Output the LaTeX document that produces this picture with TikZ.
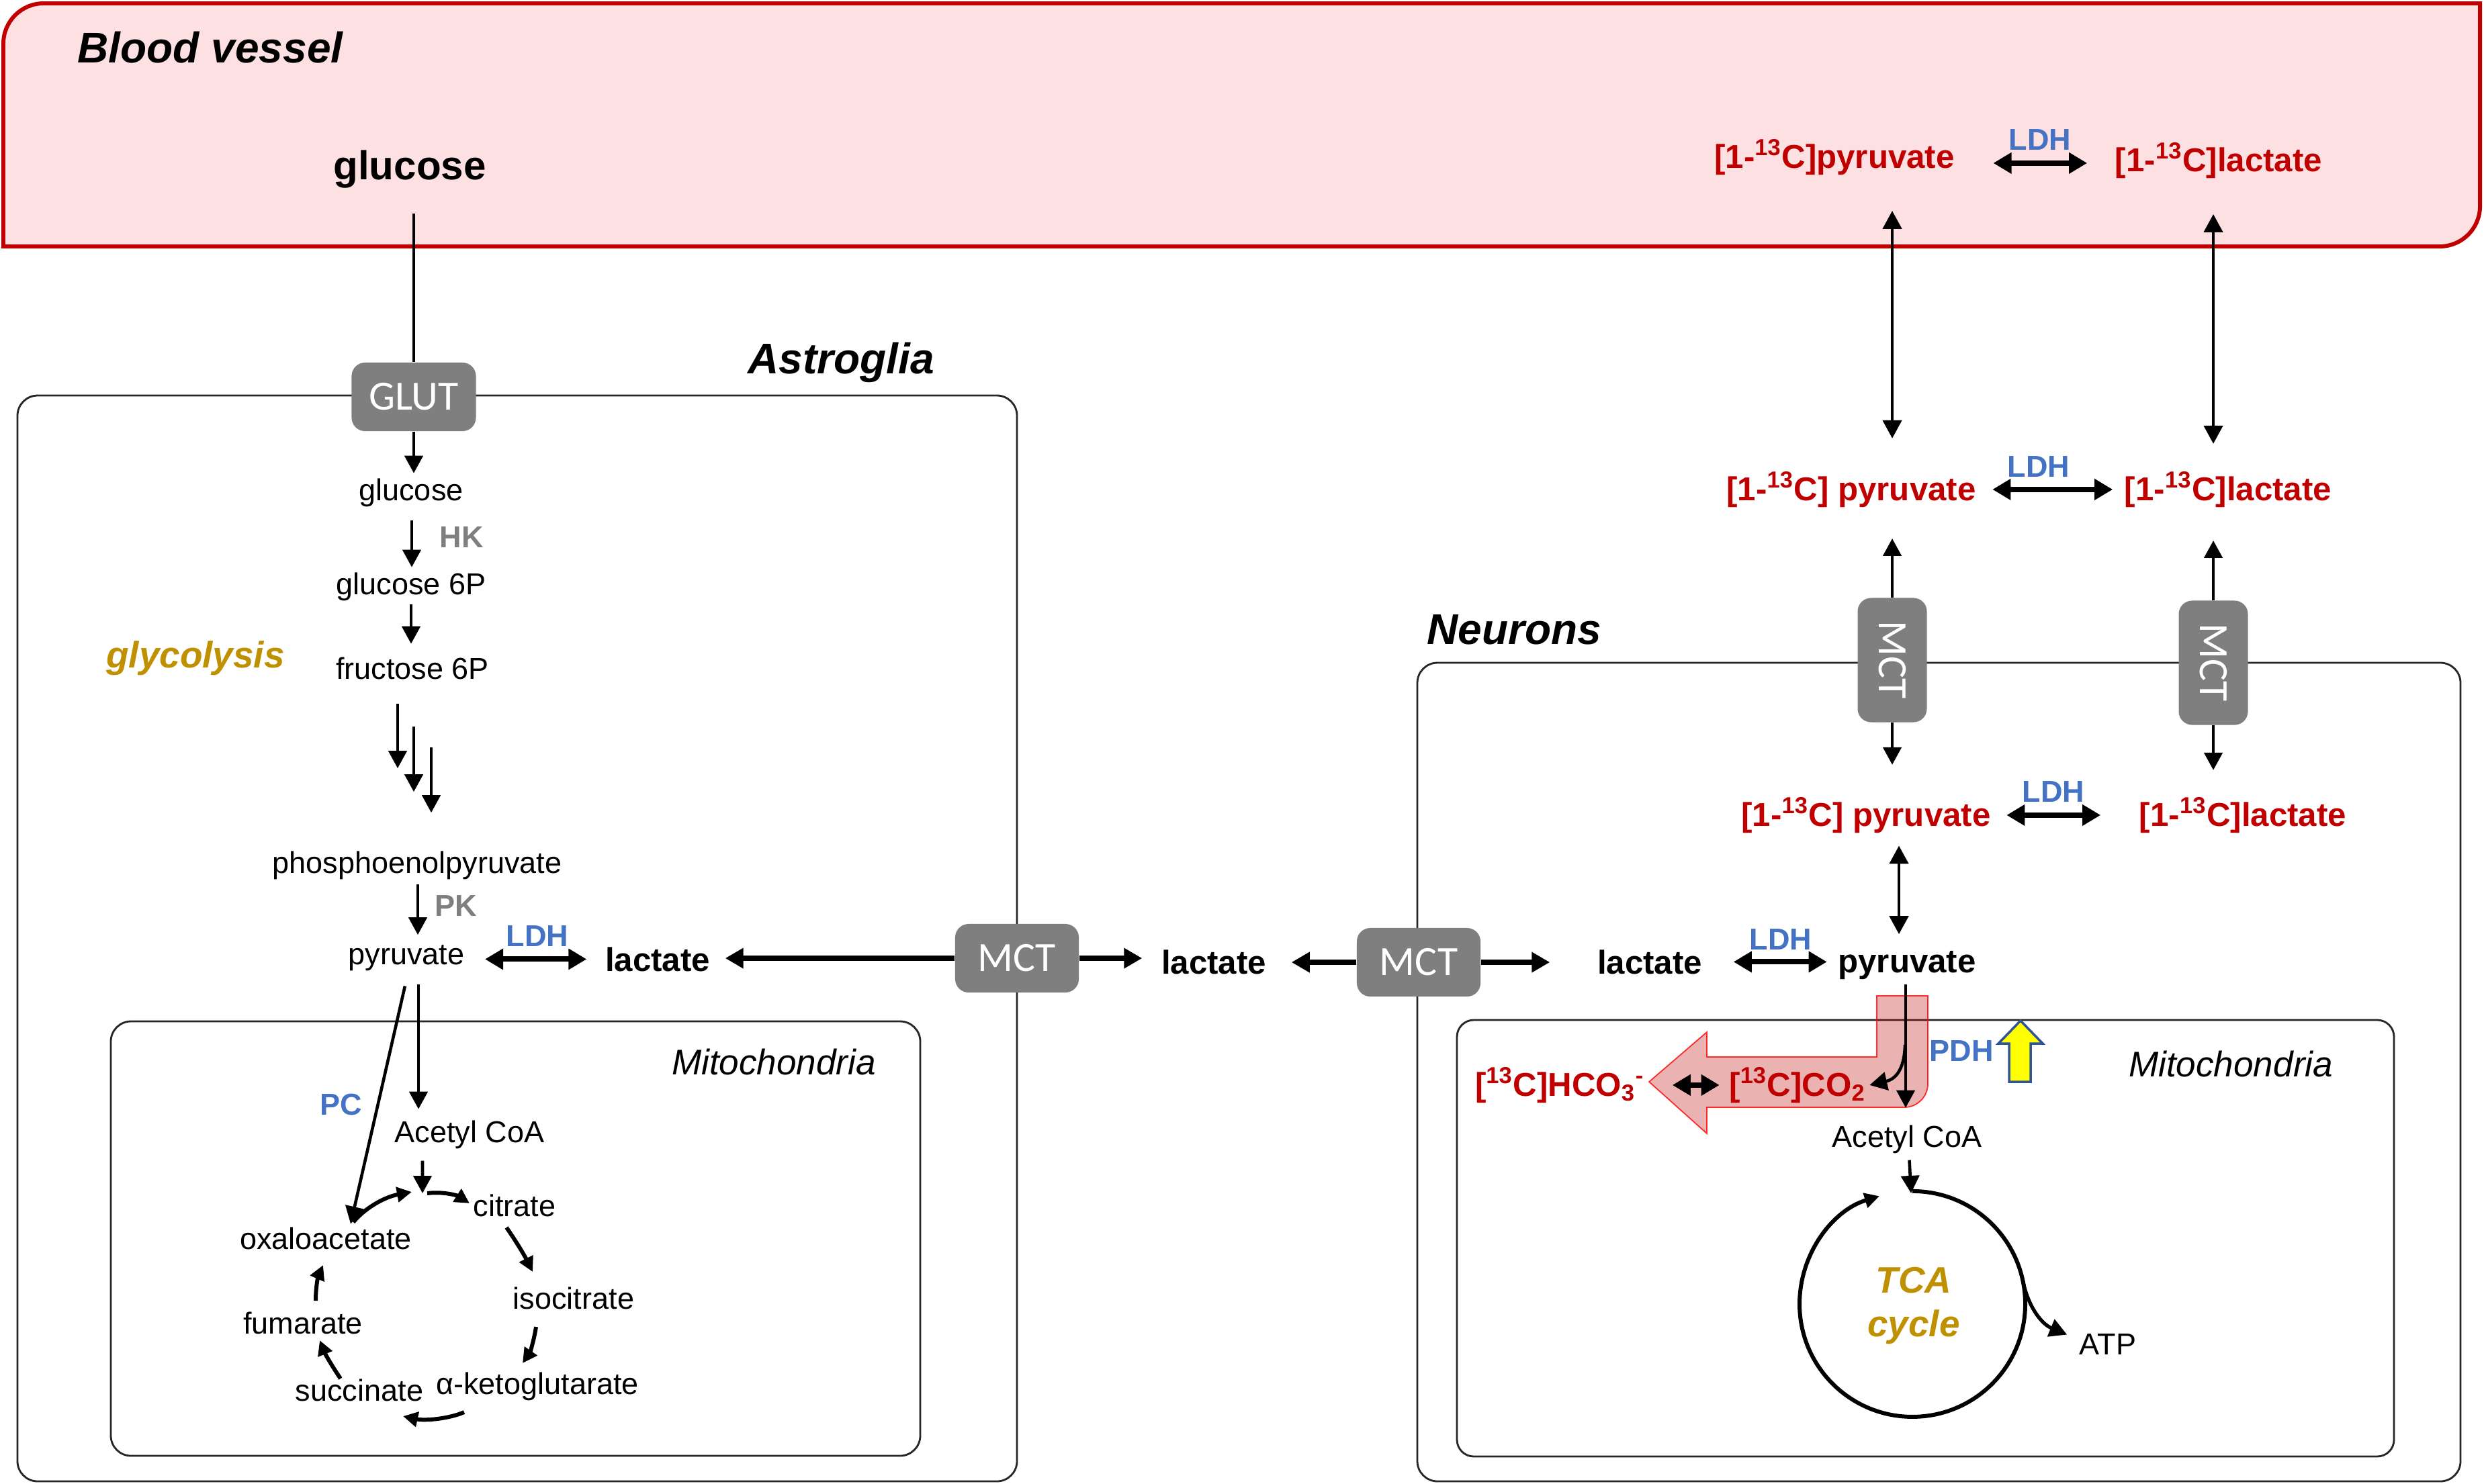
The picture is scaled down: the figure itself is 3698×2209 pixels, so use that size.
\documentclass[tikz,border=0pt]{standalone}
\usepackage{fontspec}
\setmainfont{Liberation Sans}
\newfontfamily\carl{Carlito}
\usetikzlibrary{arrows.meta}
\definecolor{bvred}{HTML}{C00000}
\definecolor{bvfill}{HTML}{FDE0E1}
\definecolor{ldhblue}{HTML}{4472C4}
\definecolor{tgold}{HTML}{BF9000}
\definecolor{mgray}{HTML}{7F7F7F}
\definecolor{ydark}{HTML}{2F5597}
\definecolor{ylw}{HTML}{FFFF00}
\newcommand\szA{\fontsize{12.8pt}{15pt}\selectfont}
\newcommand\szB{\fontsize{14pt}{16pt}\selectfont}
\newcommand\szC{\fontsize{15.1pt}{17pt}\selectfont}
\newcommand\szD{\fontsize{18.2pt}{20pt}\selectfont}
\newcommand\szE{\fontsize{17.1pt}{19pt}\selectfont}
\newcommand\szG{\fontsize{15.6pt}{18pt}\selectfont}
\newcommand\szM{\fontsize{17.6pt}{19pt}\selectfont}
\begin{document}
\begin{tikzpicture}[x=0.01cm,y=0.01cm,
  lbl/.style={inner sep=0pt, anchor=base},
  reg/.style={lbl, font=\szA},
  bld/.style={lbl, font=\szB\bfseries},
  red13/.style={lbl, font=\szB\bfseries, text=bvred},
  enzb/.style={lbl, font=\szA\bfseries, text=ldhblue},
  enzg/.style={lbl, font=\szA\bfseries, text=mgray},
  ttl/.style={lbl, font=\szD\bfseries\itshape},
  mito/.style={lbl, font=\szC\itshape},
  cellbox/.style={draw=black!85, line width=0.8pt, rounded corners=0.3cm},
  tbox/.style={fill=mgray, rounded corners=0.2cm, inner sep=0pt},
  ttxt/.style={text=white, font=\szM\carl, inner sep=0pt},
  arrT/.style={line width=1.3pt, -{Triangle[width=0.27cm,length=0.26cm]}},
  arrTT/.style={line width=1.3pt, {Triangle[width=0.28cm,length=0.27cm]}-{Triangle[width=0.28cm,length=0.27cm]}},
  arrK/.style={line width=2.1pt, -{Triangle[width=0.29cm,length=0.27cm]}},
  arrKK/.style={line width=2.3pt, {Triangle[width=0.3cm,length=0.27cm]}-{Triangle[width=0.3cm,length=0.27cm]}},
  cycA/.style={line width=1.7pt, -{Triangle[width=0.22cm,length=0.22cm]}},
]
\useasboundingbox (0,0) rectangle (3698,-2209);
\fill[white] (0,0) rectangle (3698,-2209);

% ---------- compartments ----------
\path[draw=bvred, fill=bvfill, line width=1.7pt] (5,-367) -- (5,-65)
  arc[start angle=180, end angle=90, radius=60] -- (3692,-5) -- (3692,-307)
  arc[start angle=0, end angle=-90, radius=60] -- cycle;
\draw[cellbox] (26,-589) rectangle (1514,-2206);
\draw[cellbox] (2110,-987) rectangle (3663,-2206);
\draw[cellbox] (165,-1521) rectangle (1370,-2168);
\draw[cellbox, rounded corners=0.25cm] (2169,-1519) rectangle (3564,-2169);

% ---------- titles ----------
\node[ttl, anchor=base west] (bv) at (115,-94) {Blood vessel};
\node[ttl] (astro) at (1252,-556) {Astroglia};
\node[ttl] (neur) at (2254,-959) {Neurons};
\node[mito] (mitoA) at (1152,-1600) {Mitochondria};
\node[mito] (mitoN) at (3321,-1603) {Mitochondria};

% ---------- transporters ----------
\node[tbox, minimum width=1.85cm, minimum height=1.02cm] (glut) at (616,-591) {};
\node[ttxt] (glutl) at (glut) {GLUT};
\node[tbox, minimum width=1.84cm, minimum height=1.02cm] (m1) at (1514,-1427) {};
\node[ttxt] (m1l) at (m1) {MCT};
\node[tbox, minimum width=1.84cm, minimum height=1.02cm] (m2) at (2112,-1433) {};
\node[ttxt] (m2l) at (m2) {MCT};
\node[tbox, minimum width=1.03cm, minimum height=1.85cm] (m3) at (2817,-983) {};
\node[ttxt, rotate=-90] (m3l) at (m3) {MCT};
\node[tbox, minimum width=1.03cm, minimum height=1.85cm] (m4) at (3295,-987) {};
\node[ttxt, rotate=-90] (m4l) at (m4) {MCT};

% ---------- blood vessel ----------
\node[lbl, font=\szE\bfseries] (glcV) at (610,-267) {glucose};
\node[red13] (pyrV) at (2731,-250) {[1-\textsuperscript{13}C]pyruvate};
\node[enzb] (ldhV) at (3037,-223) {LDH};
\node[red13] (lacV) at (3303,-255) {[1-\textsuperscript{13}C]lactate};
\draw[arrKK, shorten <=0.57cm, shorten >=0.41cm] ([yshift=-0.04cm]lacV.west -| pyrV.east) -- ([yshift=-0.04cm]lacV.west);

% ---------- extracellular (between) ----------
\node[red13] (pyrM) at (2756,-745) {[1-\textsuperscript{13}C] pyruvate};
\node[enzb] (ldhM) at (3035,-710) {LDH};
\node[red13] (lacM) at (3317,-745) {[1-\textsuperscript{13}C]lactate};
\draw[arrKK, shorten <=0.24cm, shorten >=0.17cm] (pyrM.east) -- (pyrM.east -| lacM.west);
\draw[arrTT, shorten <=0.53cm, shorten >=0.49cm] (m3 |- pyrV.south) -- (m3 |- pyrM.north);
\draw[arrTT, shorten <=0.53cm, shorten >=0.41cm] (m4 |- lacV.south) -- (m4 |- lacM.north);
\node[bld] (lacX) at (1807,-1450) {lactate};

% ---------- neurons ----------
\node[red13] (pyrN) at (2778,-1230) {[1-\textsuperscript{13}C] pyruvate};
\node[enzb] (ldhN) at (3057,-1194) {LDH};
\node[red13] (lacN) at (3339,-1230) {[1-\textsuperscript{13}C]lactate};
\draw[arrKK, shorten <=0.23cm, shorten >=0.57cm] (pyrN.east) -- (pyrN.east -| lacN.west);
\draw[arrT, shorten >=0.46cm] (m3.north) -- (m3 |- pyrM.south);
\draw[arrT, shorten >=0.48cm] (m3.south) -- (m3 |- pyrN.north);
\draw[arrT, shorten >=0.49cm] (m4.north) -- (m4 |- lacM.south);
\draw[arrT, shorten >=0.40cm] (m4.south) -- (m4 |- lacN.north);

\node[bld] (lacR) at (2456,-1450) {lactate};
\node[enzb] (ldhR) at (2651,-1414) {LDH};
\node[bld] (pyrR) at (2839,-1448) {pyruvate};
\draw[arrKK, shorten <=0.46cm, shorten >=0.16cm] (lacR.east) -- (lacR.east -| pyrR.west);
\draw[arrTT, shorten <=0.24cm, shorten >=0.185cm] ([xshift=-0.12cm]pyrR.north) -- ([xshift=-0.12cm]pyrR.north |- pyrN.south);

\draw[arrK, shorten >=0.70cm] (m2.east) -- (m2.east -| lacR.west);
\draw[arrK, shorten >=0.37cm] (m2.west) -- (m2.west -| lacX.east);
\draw[arrK, shorten >=0.28cm] (m1.east) -- (m1.east -| lacX.west);

% red CO2 arrow
\path[fill=bvred, fill opacity=0.3, draw=red, draw opacity=0.8, line width=0.5pt]
  (2794,-1483) -- (2870,-1483) -- (2870,-1614) arc[start angle=0, end angle=-90, radius=35]
  -- (2541,-1649) -- (2541,-1688) -- (2455,-1611) -- (2541,-1537) -- (2541,-1574)
  -- (2794,-1574) -- cycle;
% yellow PDH arrow
\path[fill=ylw, draw=ydark, line width=1pt]
  (2991,-1611) -- (2991,-1554) -- (2975,-1554) -- (3008,-1520) -- (3041,-1554)
  -- (3023,-1554) -- (3023,-1611) -- cycle;

\node[enzb] (pdh) at (2920,-1580) {PDH};
\node[red13] (hco) at (2322,-1632) {[\textsuperscript{13}C]HCO\textsubscript{3}\textsuperscript{-}};
\node[red13] (co2) at (2676,-1632) {[\textsuperscript{13}C]CO\textsubscript{2}};
\draw[arrKK, shorten <=0.41cm, shorten >=0.14cm] (hco.east) -- (hco.east -| co2.west);
\node[reg] (acN) at (2839,-1708) {Acetyl CoA};
\draw[arrT, shorten <=0.075cm, shorten >=0.25cm] ([xshift=-0.02cm]pyrR.south) -- ([xshift=-0.02cm]pyrR.south |- acN.north);
\coordinate (br) at (2836,-1556);
\draw[arrT] (br) .. controls (2835,-1598) and (2818,-1608) .. ([xshift=0.05cm]co2.east);

% TCA
\coordinate (tcaC) at (2847,-1942);
\draw[arrT, shorten <=0.095cm] ([xshift=0.03cm]acN.south) -- ([xshift=-0.02cm,yshift=1.65cm]tcaC);
\draw[cycA] ([yshift=1.68cm]tcaC) arc[start angle=90, end angle=-253, radius=168];
\node[lbl, font=\szG\bfseries\itshape, text=tgold] (tca1) at (2849,-1925) {TCA};
\node[lbl, font=\szG\bfseries\itshape, text=tgold] (tca2) at (2849,-1990) {cycle};
\node[reg] (atp) at (3138,-2017) {ATP};
\draw[arrT, line width=1.5pt] ([shift={(12:168)}]tcaC) .. controls (3020,-1948) and (3040,-1972) .. ([xshift=-0.18cm,yshift=0.14cm]atp.west);

% ---------- astroglia ----------
\draw[line width=1.3pt, shorten <=0.38cm] (glut.north |- glcV.south) -- (glut.north);
\node[reg] (gl1) at (612,-745) {glucose};
\draw[arrT, shorten >=0.07cm] (glut.south) -- (glut.south |- gl1.north);
\node[enzg] (hk) at (687,-815) {HK};
\node[reg] (g6p) at (612,-885) {glucose 6P};
\draw[arrT, shorten <=0.2cm, shorten >=0.07cm] ([xshift=0.01cm]gl1.south) -- ([xshift=0.01cm]gl1.south |- g6p.north);
\node[reg] (f6p) at (614,-1011) {fructose 6P};
\draw[arrT, shorten <=0.05cm, shorten >=0.19cm] (g6p.south) -- (g6p.south |- f6p.north);
\node[lbl, font=\szG\bfseries\itshape, text=tgold] (glyc) at (291,-994) {glycolysis};
\node[reg] (pep) at (621,-1300) {phosphoenolpyruvate};
\draw[arrT] ([xshift=-0.22cm,yshift=-0.36cm]f6p.south) -- ++(0,-96);
\draw[arrT] ([xshift=0.02cm,yshift=-0.70cm]f6p.south) -- ++(0,-97);
\draw[arrT] ([xshift=0.28cm,yshift=-1.01cm]f6p.south) -- ++(0,-97);
\node[enzg] (pk) at (679,-1364) {PK};
\node[reg] (pyrA) at (605,-1436) {pyruvate};
\draw[arrT, shorten <=0.065cm, shorten >=0.14cm] ([xshift=0.01cm]pep.south) -- ([xshift=0.01cm]pep.south |- pyrA.north);
\node[enzb] (ldhA) at (800,-1409) {LDH};
\node[bld] (lacA) at (979,-1446) {lactate};
\draw[arrKK, shorten <=0.30cm, shorten >=0.27cm] (lacA.west -| pyrA.east) -- (lacA.west);
\draw[arrK, shorten >=0.22cm] (m1.west) -- (m1.west -| lacA.east);

% astro mitochondria
\node[enzb] (pc) at (508,-1660) {PC};
\node[reg] (acA) at (699,-1701) {Acetyl CoA};
\node[reg] (cit) at (766,-1811) {citrate};
\node[reg] (oaa) at (485,-1860) {oxaloacetate};
\node[reg] (iso) at (854,-1949) {isocitrate};
\node[reg] (akg) at (800,-2076) {α-ketoglutarate};
\node[reg] (suc) at (535,-2086) {succinate};
\node[reg] (fum) at (451,-1986) {fumarate};
\draw[arrT, shorten <=0.2cm, shorten >=0.16cm] ([xshift=0.18cm]pyrA.south) -- ([xshift=0.18cm]pyrA.south |- acA.north);
\draw[arrT, shorten <=0.23cm] ([xshift=0.03cm]pyrA.south) -- ([xshift=0.37cm,yshift=0.04cm]oaa.north);
\coordinate (jn) at (629,-1777);
\draw[arrT, shorten <=0.175cm] ([xshift=-0.7cm]acA.south) -- (jn);
\draw[cycA] ([xshift=0.07cm]jn) .. controls (662,-1774) and (682,-1781) .. ([xshift=-0.05cm,yshift=0.03cm]cit.west);
\draw[cycA] (526,-1820) .. controls (545,-1797) and (575,-1782) .. ([xshift=-0.16cm,yshift=0.02cm]jn);
\draw[cycA] (754,-1828) .. controls (768,-1848) and (781,-1870) .. (793,-1894);
\draw[cycA] (798,-1976) .. controls (795,-1996) and (789,-2014) .. (778,-2030);
\draw[cycA] (691,-2103) .. controls (668,-2113) and (632,-2116) .. (600,-2109);
\draw[cycA] (507,-2053) .. controls (494,-2034) and (484,-2016) .. (476,-1996);
\draw[cycA] (470,-1937) .. controls (470,-1915) and (474,-1900) .. (481,-1884);
\end{tikzpicture}
\end{document}
